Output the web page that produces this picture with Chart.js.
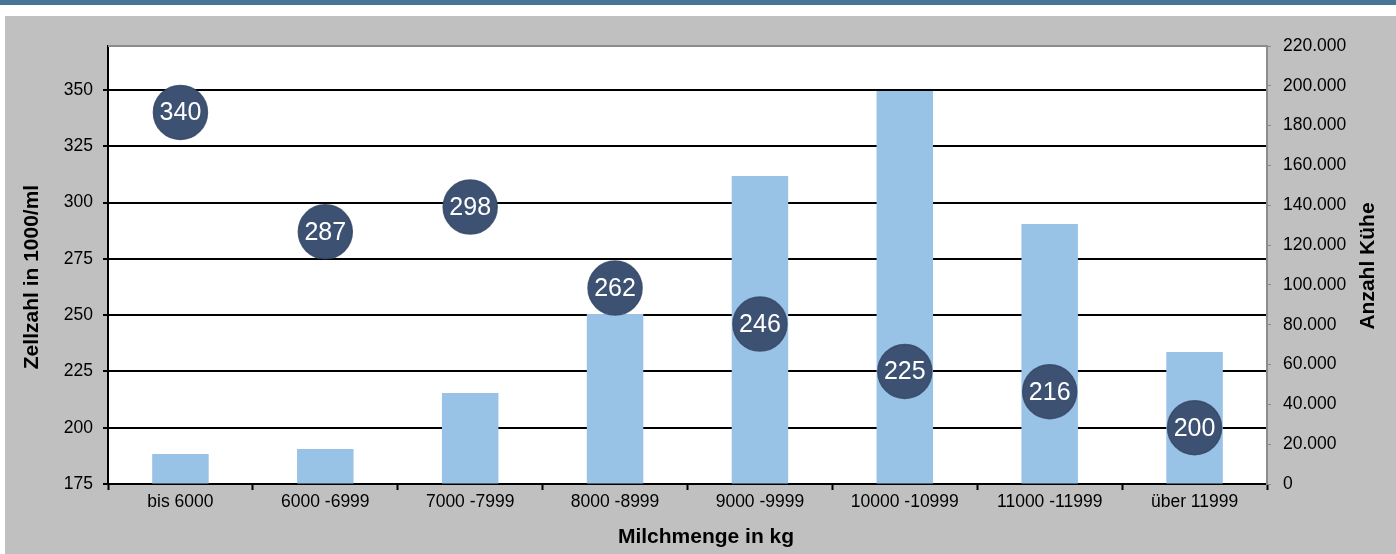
<!DOCTYPE html>
<html><head><meta charset="utf-8">
<script src="https://cdn.jsdelivr.net/npm/chart.js@4/dist/chart.umd.min.js"></script>
<style>
html,body{margin:0;padding:0;background:#fff;width:1396px;height:554px;overflow:hidden;}
#topbar{position:absolute;left:0;top:0;width:1396px;height:5px;background:#467596;}
#panel{position:absolute;left:5px;top:16px;width:1391px;height:538px;background:#c0c0c0;}
canvas{display:block;}
</style></head><body>
<div id="topbar"></div>
<div id="panel"><canvas id="c" width="1391" height="538"></canvas></div>
<script>
const categories = ['bis 6000','6000 -6999','7000 -7999','8000 -8999','9000 -9999','10000 -10999','11000 -11999','über 11999'];
const cowCounts = [15100, 17600, 45700, 85400, 154700, 197400, 130600, 66300];
const cellCounts = [340, 287, 298, 262, 246, 225, 216, 200];
const leftTicks = [175, 200, 225, 250, 275, 300, 325, 350];
const rightTicks = [0, 20000, 40000, 60000, 80000, 100000, 120000, 140000, 160000, 180000, 200000, 220000];
const titleLeft = 'Zellzahl in 1000/ml';
const titleRight = 'Anzahl Kühe';
const titleBottom = 'Milchmenge in kg';

const FONT = '"Liberation Sans", Arial, sans-serif';
const fmt = v => String(v).replace(/\B(?=(\d{3})+(?!\d))/g, '.');

const decor = {
  id: 'decor',
  beforeDraw(chart) {
    const {ctx, chartArea: a} = chart;
    ctx.save();
    ctx.fillStyle = '#ffffff';
    ctx.fillRect(a.left, a.top, a.right - a.left, a.bottom - a.top);
    ctx.restore();
  },
  afterDatasetsDraw(chart) {
    const {ctx, chartArea: a} = chart;
    ctx.save();
    ctx.strokeStyle = '#8c8c8c';
    ctx.lineWidth = 2;
    ctx.beginPath();
    ctx.moveTo(a.left, a.top);
    ctx.lineTo(a.right + 1, a.top);
    ctx.stroke();
    const meta = chart.getDatasetMeta(0);
    ctx.fillStyle = '#ffffff';
    ctx.font = '25px ' + FONT;
    ctx.textAlign = 'center';
    ctx.textBaseline = 'middle';
    meta.data.forEach((pt, i) => {
      ctx.fillText(String(cellCounts[i]), pt.x, pt.y + 1);
    });
    ctx.restore();
  },
  afterDraw(chart) {
    const {ctx} = chart;
    ctx.save();
    ctx.fillStyle = '#000';
    ctx.font = 'bold 21px ' + FONT;
    ctx.textAlign = 'center';
    ctx.textBaseline = 'middle';
    ctx.fillText(titleBottom, 701, 521.5);
    ctx.translate(27.5, 261);
    ctx.rotate(-Math.PI / 2);
    ctx.fillText(titleLeft, 0, 0);
    ctx.restore();
    ctx.save();
    ctx.fillStyle = '#000';
    ctx.font = 'bold 21px ' + FONT;
    ctx.textAlign = 'center';
    ctx.textBaseline = 'middle';
    ctx.translate(1363.7, 250);
    ctx.rotate(-Math.PI / 2);
    ctx.fillText(titleRight, 0, 0);
    ctx.restore();
  }
};

new Chart(document.getElementById('c'), {
  data: {
    labels: categories,
    datasets: [
      {
        type: 'line',
        label: 'Zellzahl',
        data: cellCounts,
        yAxisID: 'y',
        showLine: false,
        pointRadius: 27,
        pointHoverRadius: 27,
        pointBackgroundColor: '#3d5273',
        pointBorderColor: 'rgba(52,70,100,0.85)',
        pointBorderWidth: 1.5,
        order: 0,
        clip: false
      },
      {
        type: 'bar',
        label: 'Anzahl Kühe',
        data: cowCounts,
        yAxisID: 'y1',
        backgroundColor: '#99c2e7',
        barPercentage: 0.39,
        categoryPercentage: 1,
        order: 1
      }
    ]
  },
  options: {
    responsive: false,
    animation: false,
    devicePixelRatio: 1,
    layout: {padding: {top: 30, left: 0, right: 0, bottom: 0}},
    plugins: {legend: {display: false}, tooltip: {enabled: false}},
    scales: {
      x: {
        type: 'category',
        grid: {offset: true, drawOnChartArea: false, drawTicks: true, tickLength: 6, tickWidth: 2, tickColor: '#000'},
        border: {color: '#000', width: 2},
        ticks: {color: '#000', font: {family: FONT, size: 17.5}, padding: 2, maxRotation: 0, autoSkip: false},
        afterFit(s) { s.height = 70; }
      },
      y: {
        position: 'left',
        min: 175,
        max: 369.5,
        afterBuildTicks(s) { s.ticks = leftTicks.map(v => ({value: v})); },
        ticks: {color: '#000', font: {family: FONT, size: 17.5}, padding: 10},
        grid: {color: '#000', lineWidth: 2, tickLength: 5, tickColor: '#000'},
        border: {color: '#000', width: 2},
        afterFit(s) { s.width = 103; }
      },
      y1: {
        position: 'right',
        min: 0,
        max: 220000,
        afterBuildTicks(s) { s.ticks = rightTicks.map(v => ({value: v})); },
        ticks: {color: '#000', font: {family: FONT, size: 17.5}, padding: 12, callback: v => fmt(v)},
        grid: {drawOnChartArea: false, tickLength: 4, tickColor: '#8c8c8c', lineWidth: 1},
        border: {color: '#8c8c8c', width: 2},
        afterFit(s) { s.width = 129; }
      }
    }
  },
  plugins: [decor]
});
</script>
</body></html>
